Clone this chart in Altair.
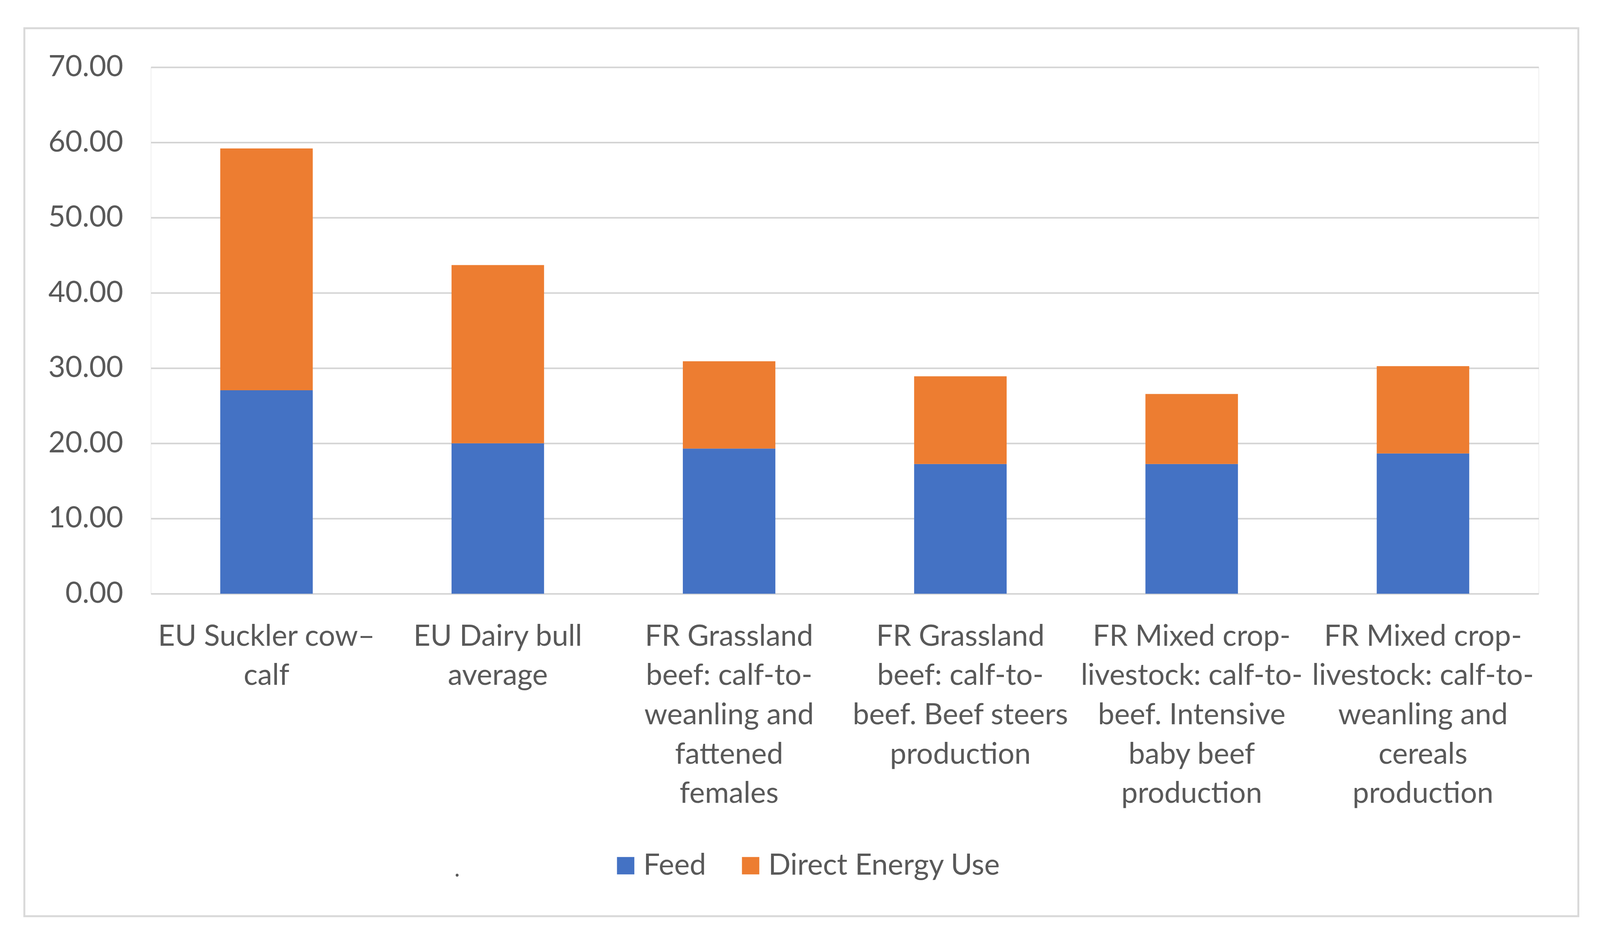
import altair as alt
import pandas as pd

categories = [
    "EU Suckler cow–\ncalf",
    "EU Dairy bull\naverage",
    "FR Grassland\nbeef: calf-to-\nweanling and\nfattened\nfemales",
    "FR Grassland\nbeef: calf-to-\nbeef. Beef steers\nproduction",
    "FR Mixed crop-\nlivestock: calf-to-\nbeef. Intensive\nbaby beef\nproduction",
    "FR Mixed crop-\nlivestock: calf-to-\nweanling and\ncereals\nproduction",
]
series = ["Feed", "Direct Energy Use"]
feed = [27.05, 20.0, 19.3, 17.25, 17.25, 18.65]
direct_energy = [32.15, 23.7, 11.6, 11.65, 9.3, 11.6]
colors = ["#4472C4", "#ED7D31"]
y_ticks = [0, 10, 20, 30, 40, 50, 60, 70]

rows = []
for c, f, d in zip(categories, feed, direct_energy):
    rows.append({"category": c, "series": series[0], "value": f, "ord": 0})
    rows.append({"category": c, "series": series[1], "value": d, "ord": 1})
df = pd.DataFrame(rows)

FONT = "Lato"
TXT = "#595959"

bars = alt.Chart(df).mark_bar().encode(
    x=alt.X("category:N", sort=categories,
            scale=alt.Scale(paddingInner=0.6, paddingOuter=0.3),
            axis=alt.Axis(title=None, labelAngle=0, domain=False, ticks=False,
                          labelExpr="split(datum.label, '\\n')",
                          labelFontSize=76, labelLineHeight=102, labelColor=TXT,
                          labelFont=FONT, labelPadding=74, labelLimit=1000,
                          labelBaseline="top")),
    y=alt.Y("value:Q", stack="zero",
            scale=alt.Scale(domain=[0, 70]),
            axis=alt.Axis(title=None, values=y_ticks, format=".2f", domain=False, ticks=False,
                          gridColor="#d4d4d4", gridWidth=4,
                          labelFontSize=76, labelColor=TXT, labelFont=FONT,
                          labelPadding=72, labelLimit=1000)),
    color=alt.Color("series:N", sort=series,
                    scale=alt.Scale(domain=series, range=colors),
                    legend=alt.Legend(title=None, orient="none", direction="horizontal",
                                      legendX=1193, legendY=2032,
                                      symbolType="square", symbolSize=2025,
                                      symbolStrokeWidth=0, labelFontSize=76,
                                      labelFont=FONT, labelColor=TXT,
                                      labelOffset=8, columnPadding=77,
                                      labelLimit=1000)),
    order=alt.Order("ord:Q", sort="ascending"),
)

one = pd.DataFrame({"a": [0]})
border = alt.Chart(one).mark_rect(fill=None, stroke="#d9d9d9", strokeWidth=5).encode(
    x=alt.value(-328), x2=alt.value(3701), y=alt.value(-101), y2=alt.value(2201)
)
dot = alt.Chart(one).mark_text(text=".", fontSize=60, font=FONT, color=TXT).encode(
    x=alt.value(794), y=alt.value(2080)
)

chart = alt.layer(border, bars, dot).properties(
    width=3598, height=1365,
    autosize=alt.AutoSizeParams(type="none"),
    padding={"left": 383, "top": 151, "right": 151, "bottom": 850},
).configure_view(stroke=None).configure(background="white")

chart.save("out.html", embed_options={"renderer": "svg", "actions": False})
